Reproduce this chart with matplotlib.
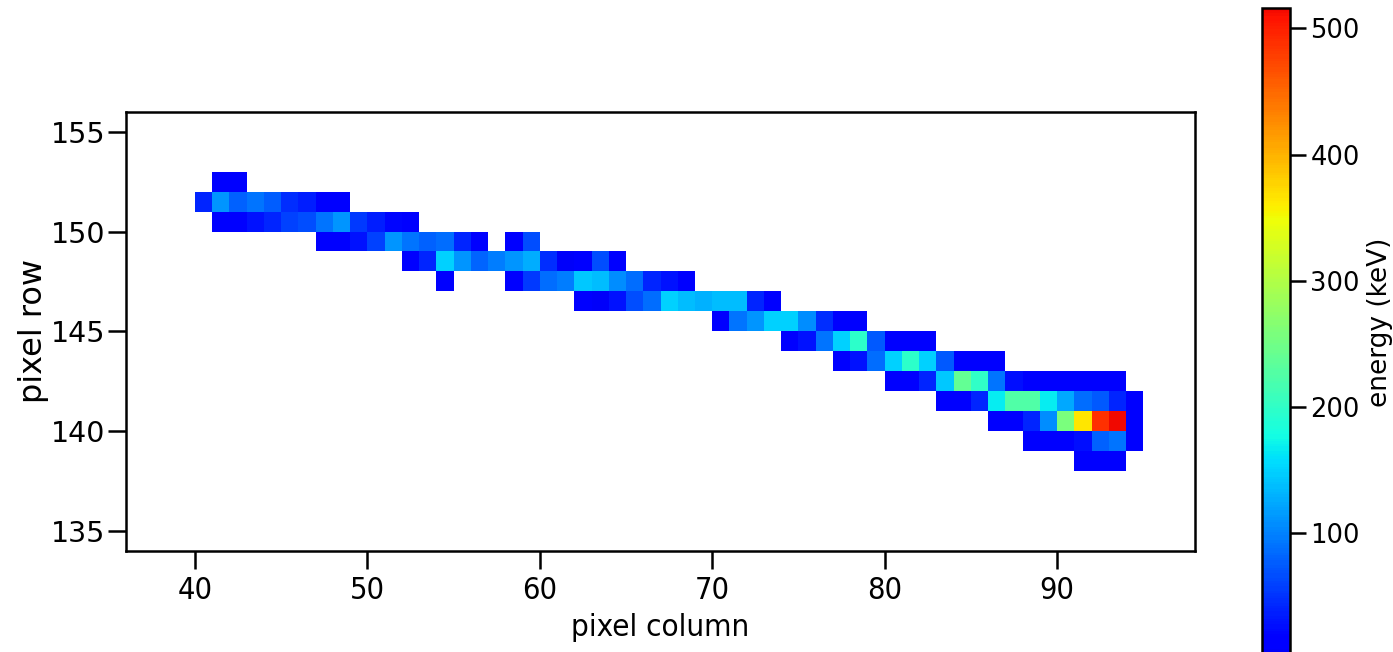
import numpy as np
import matplotlib
matplotlib.use("Agg")
import matplotlib.pyplot as plt
from matplotlib.colors import ListedColormap, Normalize

# ---------------- data: energy (keV) per pixel ----------------
# one list per pixel row; values start at the column given in first_col
N = np.nan
row_ids = [152, 151, 150, 149, 148, 147, 146, 145, 144, 143, 142, 141, 140, 139, 138]
first_col = [41, 40, 41, 47, 52, 54, 62, 70, 74, 77, 80, 83, 86, 88, 91]
e152 = [12, 10]
e151 = [41, 111, 79, 92, 76, 48, 35, 12, 10]
e150 = [14, 13, 29, 41, 60, 67, 92, 111, 54, 35, 22, 15]
e149 = [12, 10, 29, 60, 111, 92, 79, 86, 41, 12, N, 10, 67]
e148 = [13, 41, 149, 111, 82, 98, 111, 127, 48, 8, 11, 67, 14]
e147 = [13, N, N, N, 11, 54, 86, 98, 143, 136, 105, 86, 41, 29, 9]
e146 = [9, 8, 29, 67, 86, 149, 136, 130, 136, 136, 41, 9]
e145 = [11, 92, 111, 149, 149, 105, 48, 12, 11]
e144 = [11, 29, 92, 149, 195, 73, 12, 11, 9]
e143 = [12, 29, 86, 149, 195, 149, 73, 12, 12, 9]
e142 = [12, 12, 41, 143, 240, 200, 92, 25, 9, 10, 10, 9, 10, 9]
e141 = [12, 12, 41, 165, 223, 223, 165, 124, 86, 73, 41, 9]
e140 = [12, 11, 41, 105, 255, 365, 488, 516, 9]
e139 = [12, 12, 11, 27, 79, 92, 9]
e138 = [12, 12, 12]
row_values = [e152, e151, e150, e149, e148, e147, e146, e145, e144, e143,
              e142, e141, e140, e139, e138]

cbar_ticks = [100, 200, 300, 400, 500]
vmin, vmax = 2, 516

# ---------------- build grid ----------------
col_lo, col_hi = 40, 96
row_lo, row_hi = 138, 153
grid = np.full((row_hi - row_lo, col_hi - col_lo), np.nan)
for r, c0, vals in zip(row_ids, first_col, row_values):
    for k, v in enumerate(vals):
        grid[r - row_lo, c0 + k - col_lo] = v
grid = np.ma.masked_invalid(grid)
x_edges = np.arange(col_lo, col_hi + 1)
y_edges = np.arange(row_lo, row_hi + 1)

# truncated jet (bright blue -> red)
def jet_frac(v):
    return 0.10 + 0.00155 * v
cmap = ListedColormap(plt.cm.jet(np.linspace(jet_frac(vmin), jet_frac(vmax), 256)))
norm = Normalize(vmin=vmin, vmax=vmax)

# ---------------- figure ----------------
W, H = 1393, 652
fig = plt.figure(figsize=(W / 100, H / 100), dpi=100)
ax = fig.add_axes([126 / W, (H - 551) / H, 1069 / W, 439.3 / H])
mesh = ax.pcolormesh(x_edges, y_edges, grid, cmap=cmap, norm=norm)
ax.set_xlim(36, 98)
ax.set_ylim(134, 156)
ax.set_xticks([40, 50, 60, 70, 80, 90])
ax.set_yticks([135, 140, 145, 150, 155])

for s in ax.spines.values():
    s.set_linewidth(1.8)
ax.tick_params(axis='both', length=13, width=1.8, colors='black')
ax.tick_params(axis='x', pad=5, labelsize=22)
ax.tick_params(axis='y', pad=2, labelsize=20.5)
for lab in ax.get_xticklabels():
    lab.set_fontstretch('condensed')

ax.set_xlabel('pixel column', fontsize=22.5, fontstretch='condensed', labelpad=6)
ax.set_ylabel('pixel row', fontsize=23, labelpad=1)

cax = fig.add_axes([1262 / W, (H - 656.5) / H, 27.5 / W, (656.5 - 8.3) / H])
cb = fig.colorbar(mesh, cax=cax, ticks=cbar_ticks)
cb.outline.set_linewidth(1.8)
cax.tick_params(length=11.5, width=1.8, labelsize=18.5, pad=3.5)
cb.set_label('energy (keV)', fontsize=19, labelpad=5)
cax.yaxis.label.set_y((656.5 - 322) / (656.5 - 8.3))

fig.savefig('out.png', dpi=100)
